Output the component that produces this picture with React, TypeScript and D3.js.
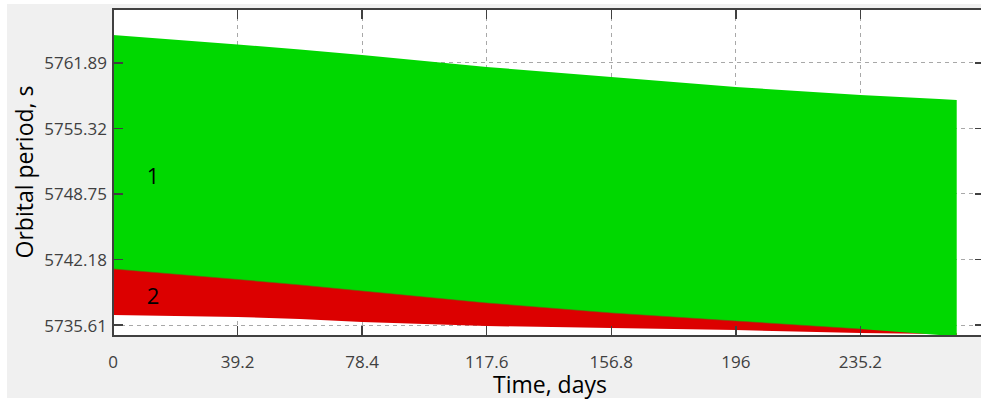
import React from "react";
import * as d3 from "d3";

// sampled envelopes of the two orbital period traces (days -> seconds)
const times = [0, 39.2, 58.8, 78.4, 117.6, 156.8, 196, 235.2, 260, 265.5];
const greenHigh = [5764.7, 5763.75, 5763.25, 5762.69, 5761.49, 5760.49, 5759.48, 5758.68, 5758.28, 5758.18];
const greenLow = [5741.23, 5740.18, 5739.63, 5739.02, 5737.82, 5736.82, 5736.01, 5735.21, 5734.61, 5734.61];
const redLow = [5736.62, 5736.42, 5736.22, 5735.91, 5735.51, 5735.31, 5735.11, 5734.81, 5734.71, 5734.61];

const xTicks = [0, 39.2, 78.4, 117.6, 156.8, 196, 235.2];
const yTicks = [5735.61, 5742.18, 5748.75, 5755.32, 5761.89];

const W = 981;
const H = 401;
const left = 113;
const right = 985;
const top = 9;
const bottom = 336;
const font = "'Open Sans', 'Noto Sans', sans-serif";

export default function App() {
  const x = d3.scaleLinear().domain([0, 274.4]).range([left, right]);
  const y = d3.scaleLinear().domain([5734.51, 5767.3]).range([bottom, top]);

  const rows = times.map((t, i) => ({ t, hi: greenHigh[i], lo: greenLow[i], rlo: redLow[i] }));

  const greenArea = d3
    .area<any>()
    .x((d) => x(d.t))
    .y0((d) => y(d.lo))
    .y1((d) => y(d.hi));
  const redArea = d3
    .area<any>()
    .x((d) => x(d.t))
    .y0((d) => y(d.rlo))
    .y1((d) => y(d.lo) - 2);
  const edge = d3
    .line<any>()
    .x((d) => x(d.t))
    .y((d) => y(d.lo));

  return (
    <svg width={W} height={H} style={{ position: "absolute", left: 0, top: 0 }}>
      <rect width={W} height={H} fill="#ffffff" />
      <rect x={7} y={4} width={W - 7} height={394} fill="#f0f0f0" />
      <defs>
        <clipPath id="plot">
          <rect x={left} y={top} width={right - left} height={bottom - top} />
        </clipPath>
      </defs>
      <rect x={left} y={top} width={right - left} height={bottom - top} fill="#ffffff" />

      {/* grid */}
      <g stroke="#a8a8a8" strokeDasharray="4,4" shapeRendering="crispEdges">
        {xTicks.map((t) => (
          <line key={"gx" + t} x1={x(t)} x2={x(t)} y1={top} y2={bottom} />
        ))}
        {yTicks.map((v) => (
          <line key={"gy" + v} x1={left} x2={right} y1={y(v)} y2={y(v)} />
        ))}
      </g>

      <g clipPath="url(#plot)">
        <path d={redArea(rows) || ""} fill="#dc0000" />
        <path d={greenArea(rows) || ""} fill="#00d800" />
        <path d={edge(rows.slice(0, 8)) || ""} fill="none" stroke="#7a5010" strokeWidth={1} opacity={0.6} />
      </g>

      {/* ticks */}
      <g stroke="#404040" strokeWidth={1.5} shapeRendering="crispEdges">
        {xTicks.map((t) => (
          <g key={"tx" + t}>
            <line x1={x(t)} x2={x(t)} y1={bottom} y2={bottom - 10} />
            <line x1={x(t)} x2={x(t)} y1={top} y2={top + 10} />
          </g>
        ))}
        {yTicks.map((v) => (
          <g key={"ty" + v}>
            <line x1={left} x2={left + 10} y1={y(v)} y2={y(v)} />
            <line x1={right} x2={right - 10} y1={y(v)} y2={y(v)} />
          </g>
        ))}
      </g>

      {/* frame */}
      <rect
        x={left}
        y={top}
        width={right - left}
        height={bottom - top}
        fill="none"
        stroke="#404040"
        strokeWidth={2}
        shapeRendering="crispEdges"
      />

      {/* tick labels */}
      <g fontFamily={font} fontSize={17} fill="#404040">
        {xTicks.map((t) => (
          <text key={"lx" + t} x={x(t)} y={368} textAnchor="middle">
            {t}
          </text>
        ))}
        {yTicks.map((v) => (
          <text key={"ly" + v} x={107} y={y(v)} textAnchor="end" dominantBaseline="central">
            {v.toFixed(2)}
          </text>
        ))}
      </g>

      {/* titles */}
      <text x={550} y={393} textAnchor="middle" fontFamily={font} fontSize={23} fill="#000">
        Time, days
      </text>
      <text
        transform="translate(33,172) rotate(-90)"
        textAnchor="middle"
        fontFamily={font}
        fontSize={23}
        fill="#000"
      >
        Orbital period, s
      </text>

      {/* series labels */}
      <text x={153} y={184} textAnchor="middle" fontFamily={font} fontSize={22} fill="#000">
        1
      </text>
      <text x={153} y={304} textAnchor="middle" fontFamily={font} fontSize={22} fill="#000">
        2
      </text>
    </svg>
  );
}
